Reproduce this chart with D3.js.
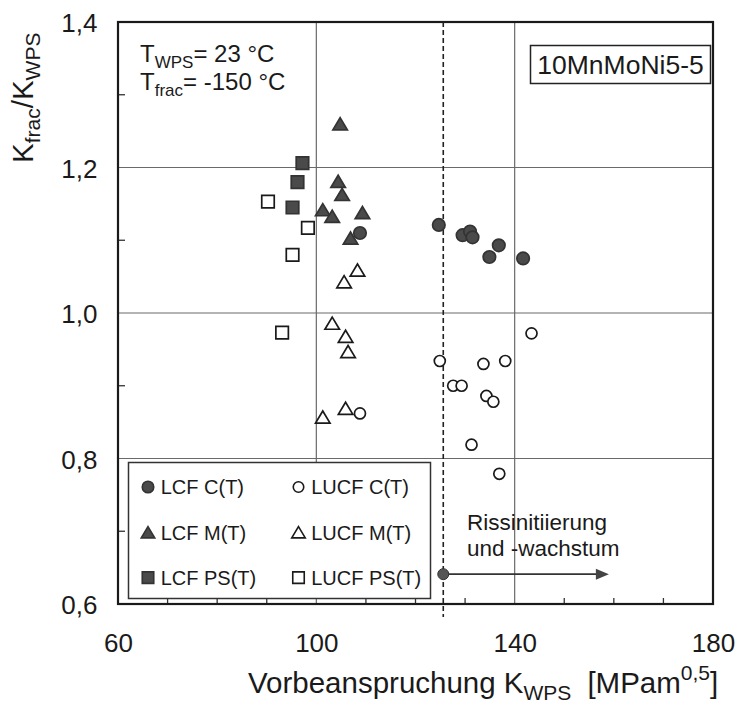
<!DOCTYPE html>
<html><head><meta charset="utf-8">
<script src="https://cdn.jsdelivr.net/npm/d3@7"></script>
<style>body{margin:0;background:#fff}svg{display:block}text{font-family:"Liberation Sans",Arial,Helvetica,sans-serif;fill:#1a1a1a}</style>
</head><body>
<svg id="c" width="737" height="714"></svg>
<script>
// ---- data ----
const lcfC_x = [108.8,124.7,129.5,131.0,131.5,136.8,134.9,141.7];
const lcfC_y = [1.110,1.121,1.107,1.112,1.104,1.093,1.077,1.075];
const lucfC_x = [143.4,124.9,133.7,138.1,127.6,129.3,134.3,135.7,131.3,136.9,108.8];
const lucfC_y = [0.972,0.934,0.930,0.934,0.900,0.900,0.886,0.878,0.819,0.779,0.862];
const lcfM_x = [104.8,104.4,105.2,101.3,103.2,109.3,106.9];
const lcfM_y = [1.260,1.181,1.163,1.142,1.133,1.138,1.103];
const lucfM_x = [108.3,105.6,103.2,105.9,106.4,105.9,101.3];
const lucfM_y = [1.059,1.043,0.986,0.968,0.947,0.869,0.857];
const lcfPS_x = [97.2,96.2,95.2];
const lcfPS_y = [1.206,1.180,1.145];
const lucfPS_x = [90.25,98.3,95.2,93.1];
const lucfPS_y = [1.153,1.117,1.080,0.973];
const xTicks = [60,100,140,180];
const yTicks = [0.6,0.8,1.0,1.2,1.4];
const xMinor = [70,80,90,110,120,130,150,160,170];
const yMinor = [0.7,0.9,1.1,1.3];
const wpsLimit = 125.6;      // dashed line
const arrowFrom = 125.6, arrowTo = 159.0, arrowY = 0.641;
const legendLabels = ["LCF C(T)","LUCF C(T)","LCF M(T)","LUCF M(T)","LCF PS(T)","LUCF PS(T)"];

const series = [
  {name:"LCF C(T)", xs:lcfC_x, ys:lcfC_y, shape:"circle", filled:true},
  {name:"LUCF C(T)", xs:lucfC_x, ys:lucfC_y, shape:"circle", filled:false},
  {name:"LCF M(T)", xs:lcfM_x, ys:lcfM_y, shape:"triangle", filled:true},
  {name:"LUCF M(T)", xs:lucfM_x, ys:lucfM_y, shape:"triangle", filled:false},
  {name:"LCF PS(T)", xs:lcfPS_x, ys:lcfPS_y, shape:"square", filled:true},
  {name:"LUCF PS(T)", xs:lucfPS_x, ys:lucfPS_y, shape:"square", filled:false}
];

// ---- drawing ----
const svg = d3.select("#c");
const L=118, R=713, T=22, B=604;
const x = d3.scaleLinear().domain([60,180]).range([L,R]);
const y = d3.scaleLinear().domain([0.6,1.4]).range([B,T]);
const fmt = d => d3.format(".1f")(d).replace(".", ",");
const FILL = "#4a4a4a";

function shapePath(shape, s) {
  const h = s/2;
  if (shape === "circle") { const p = d3.path(); p.arc(0,0,h,0,2*Math.PI); p.closePath(); return p.toString(); }
  if (shape === "square") return `M${-h},${-h}H${h}V${h}H${-h}Z`;
  const th = s*0.9;
  return `M0,${-th/2}L${h+0.5},${th/2}L${-h-0.5},${th/2}Z`;
}

// grid
const grid = svg.append("g").attr("stroke","#6a6a6a").attr("stroke-width",1.2);
grid.selectAll("line.v").data([100,140]).enter().append("line")
  .attr("x1",d=>x(d)).attr("x2",d=>x(d)).attr("y1",T).attr("y2",B);
grid.selectAll("line.h").data([0.8,1.0,1.2]).enter().append("line")
  .attr("x1",L).attr("x2",R).attr("y1",d=>y(d)).attr("y2",d=>y(d));

// legend box (covers grid)
const lg = svg.append("g");
lg.append("rect").attr("x",128.5).attr("y",462.5).attr("width",302).attr("height",136)
  .attr("fill","#fff").attr("stroke","#333").attr("stroke-width",1.5);
series.forEach((s,i)=>{
  const col = i%2, row = Math.floor(i/2);
  const cx = col===0 ? 148 : 298.5, cy = 487 + row*45.3;
  const sz = s.shape==="circle" ? (s.filled?11.5:10.5) : (s.shape==="triangle"?12.5:11.5);
  lg.append("path").attr("d",shapePath(s.shape,sz))
    .attr("transform",`translate(${cx},${cy})`)
    .attr("fill",s.filled?FILL:"#fff").attr("stroke",s.filled?"#333":"#1a1a1a").attr("stroke-width",1.6);
  lg.append("text").attr("x",cx+12.7).attr("y",cy+7.2).attr("font-size",20).text(legendLabels[i]);
});

// minor ticks
svg.append("g").attr("stroke","#333").attr("stroke-width",1.3).selectAll("line").data(xMinor).enter().append("line")
  .attr("x1",d=>x(d)).attr("x2",d=>x(d)).attr("y1",B).attr("y2",B-6);
svg.append("g").attr("stroke","#333").attr("stroke-width",1.3).selectAll("line").data(yMinor).enter().append("line")
  .attr("x1",L).attr("x2",L+7).attr("y1",d=>y(d)).attr("y2",d=>y(d));

// frame
svg.append("rect").attr("x",L).attr("y",T).attr("width",R-L).attr("height",B-T)
  .attr("fill","none").attr("stroke","#1a1a1a").attr("stroke-width",2.2);

// axes labels via d3 axes
const xAxis = svg.append("g").attr("transform",`translate(0,${B})`)
  .call(d3.axisBottom(x).tickValues(xTicks).tickSize(0).tickPadding(0).tickFormat(d3.format("d")));
xAxis.select(".domain").remove();
xAxis.selectAll("text").attr("font-size",26).attr("dy",null).attr("y",48).attr("fill","#1a1a1a").style("font-family",'"Liberation Sans",Arial,sans-serif');
const yAxis = svg.append("g").attr("transform",`translate(${L},0)`)
  .call(d3.axisLeft(y).tickValues(yTicks).tickSize(0).tickPadding(0).tickFormat(fmt));
yAxis.select(".domain").remove();
yAxis.selectAll("text").attr("font-size",26).attr("dy",null).attr("x",-20.5).attr("y",9.5).attr("fill","#1a1a1a").style("font-family",'"Liberation Sans",Arial,sans-serif');

// dashed line
svg.append("line").attr("x1",x(wpsLimit)).attr("x2",x(wpsLimit)).attr("y1",T).attr("y2",617)
  .attr("stroke","#222").attr("stroke-width",1.6).attr("stroke-dasharray","5,3");

// data points
series.forEach(s=>{
  const pts = s.xs.map((v,i)=>[v,s.ys[i]]);
  const sz = s.shape==="circle" ? (s.filled?12.5:11) : (s.shape==="triangle"?13.5:12.5);
  svg.append("g").selectAll("path").data(pts).enter().append("path")
    .attr("d",shapePath(s.shape,sz))
    .attr("transform",d=>`translate(${x(d[0])},${y(d[1])})`)
    .attr("fill",s.filled?FILL:"#fff").attr("stroke",s.filled?"#333":"#1a1a1a").attr("stroke-width",1.7);
});

// arrow
const ay = y(arrowY);
svg.append("line").attr("x1",x(arrowFrom)).attr("x2",x(arrowTo)-12).attr("y1",ay).attr("y2",ay)
  .attr("stroke","#333").attr("stroke-width",1.8);
svg.append("path").attr("d",`M${x(arrowTo)},${ay}L${x(arrowTo)-13},${ay-5.5}L${x(arrowTo)-13},${ay+5.5}Z`).attr("fill","#444");
svg.append("circle").attr("cx",x(arrowFrom)).attr("cy",ay).attr("r",5.5).attr("fill","#555").attr("stroke","#333");

// annotation text
svg.append("text").attr("x",467).attr("y",530).attr("font-size",22.5).text("Rissinitiierung");
svg.append("text").attr("x",467).attr("y",555.5).attr("font-size",22.5).text("und -wachstum");

const t1 = svg.append("text").attr("x",140).attr("y",62).attr("font-size",24);
t1.append("tspan").text("T");
t1.append("tspan").attr("font-size",17).attr("dy",6).text("WPS");
t1.append("tspan").attr("dy",-6).text("= 23 °C");
const t2 = svg.append("text").attr("x",140).attr("y",90).attr("font-size",24);
t2.append("tspan").text("T");
t2.append("tspan").attr("font-size",17).attr("dy",6).text("frac");
t2.append("tspan").attr("dy",-6).text("= -150 °C");

// material box
svg.append("rect").attr("x",530.5).attr("y",45.5).attr("width",180).attr("height",38)
  .attr("fill","#fff").attr("stroke","#222").attr("stroke-width",1.5);
svg.append("text").attr("x",620.5).attr("y",73.5).attr("text-anchor","middle").attr("font-size",26.5).text("10MnMoNi5-5");

// axis titles
const xt = svg.append("text").attr("x",248).attr("y",693).attr("font-size",29.5);
xt.append("tspan").text("Vorbeanspruchung K");
xt.append("tspan").attr("font-size",21).attr("dy",7).text("WPS");
xt.append("tspan").attr("dy",-7).attr("dx",16).text("[MPam");
xt.append("tspan").attr("font-size",21).attr("dy",-13).text("0,5");
xt.append("tspan").attr("dy",13).text("]");

const yt = svg.append("text").attr("transform","translate(33,163) rotate(-90)").attr("font-size",29.5);
yt.append("tspan").text("K");
yt.append("tspan").attr("font-size",21).attr("dy",7).text("frac");
yt.append("tspan").attr("dy",-7).text("/K");
yt.append("tspan").attr("font-size",21).attr("dy",7).text("WPS");
</script>
</body></html>
